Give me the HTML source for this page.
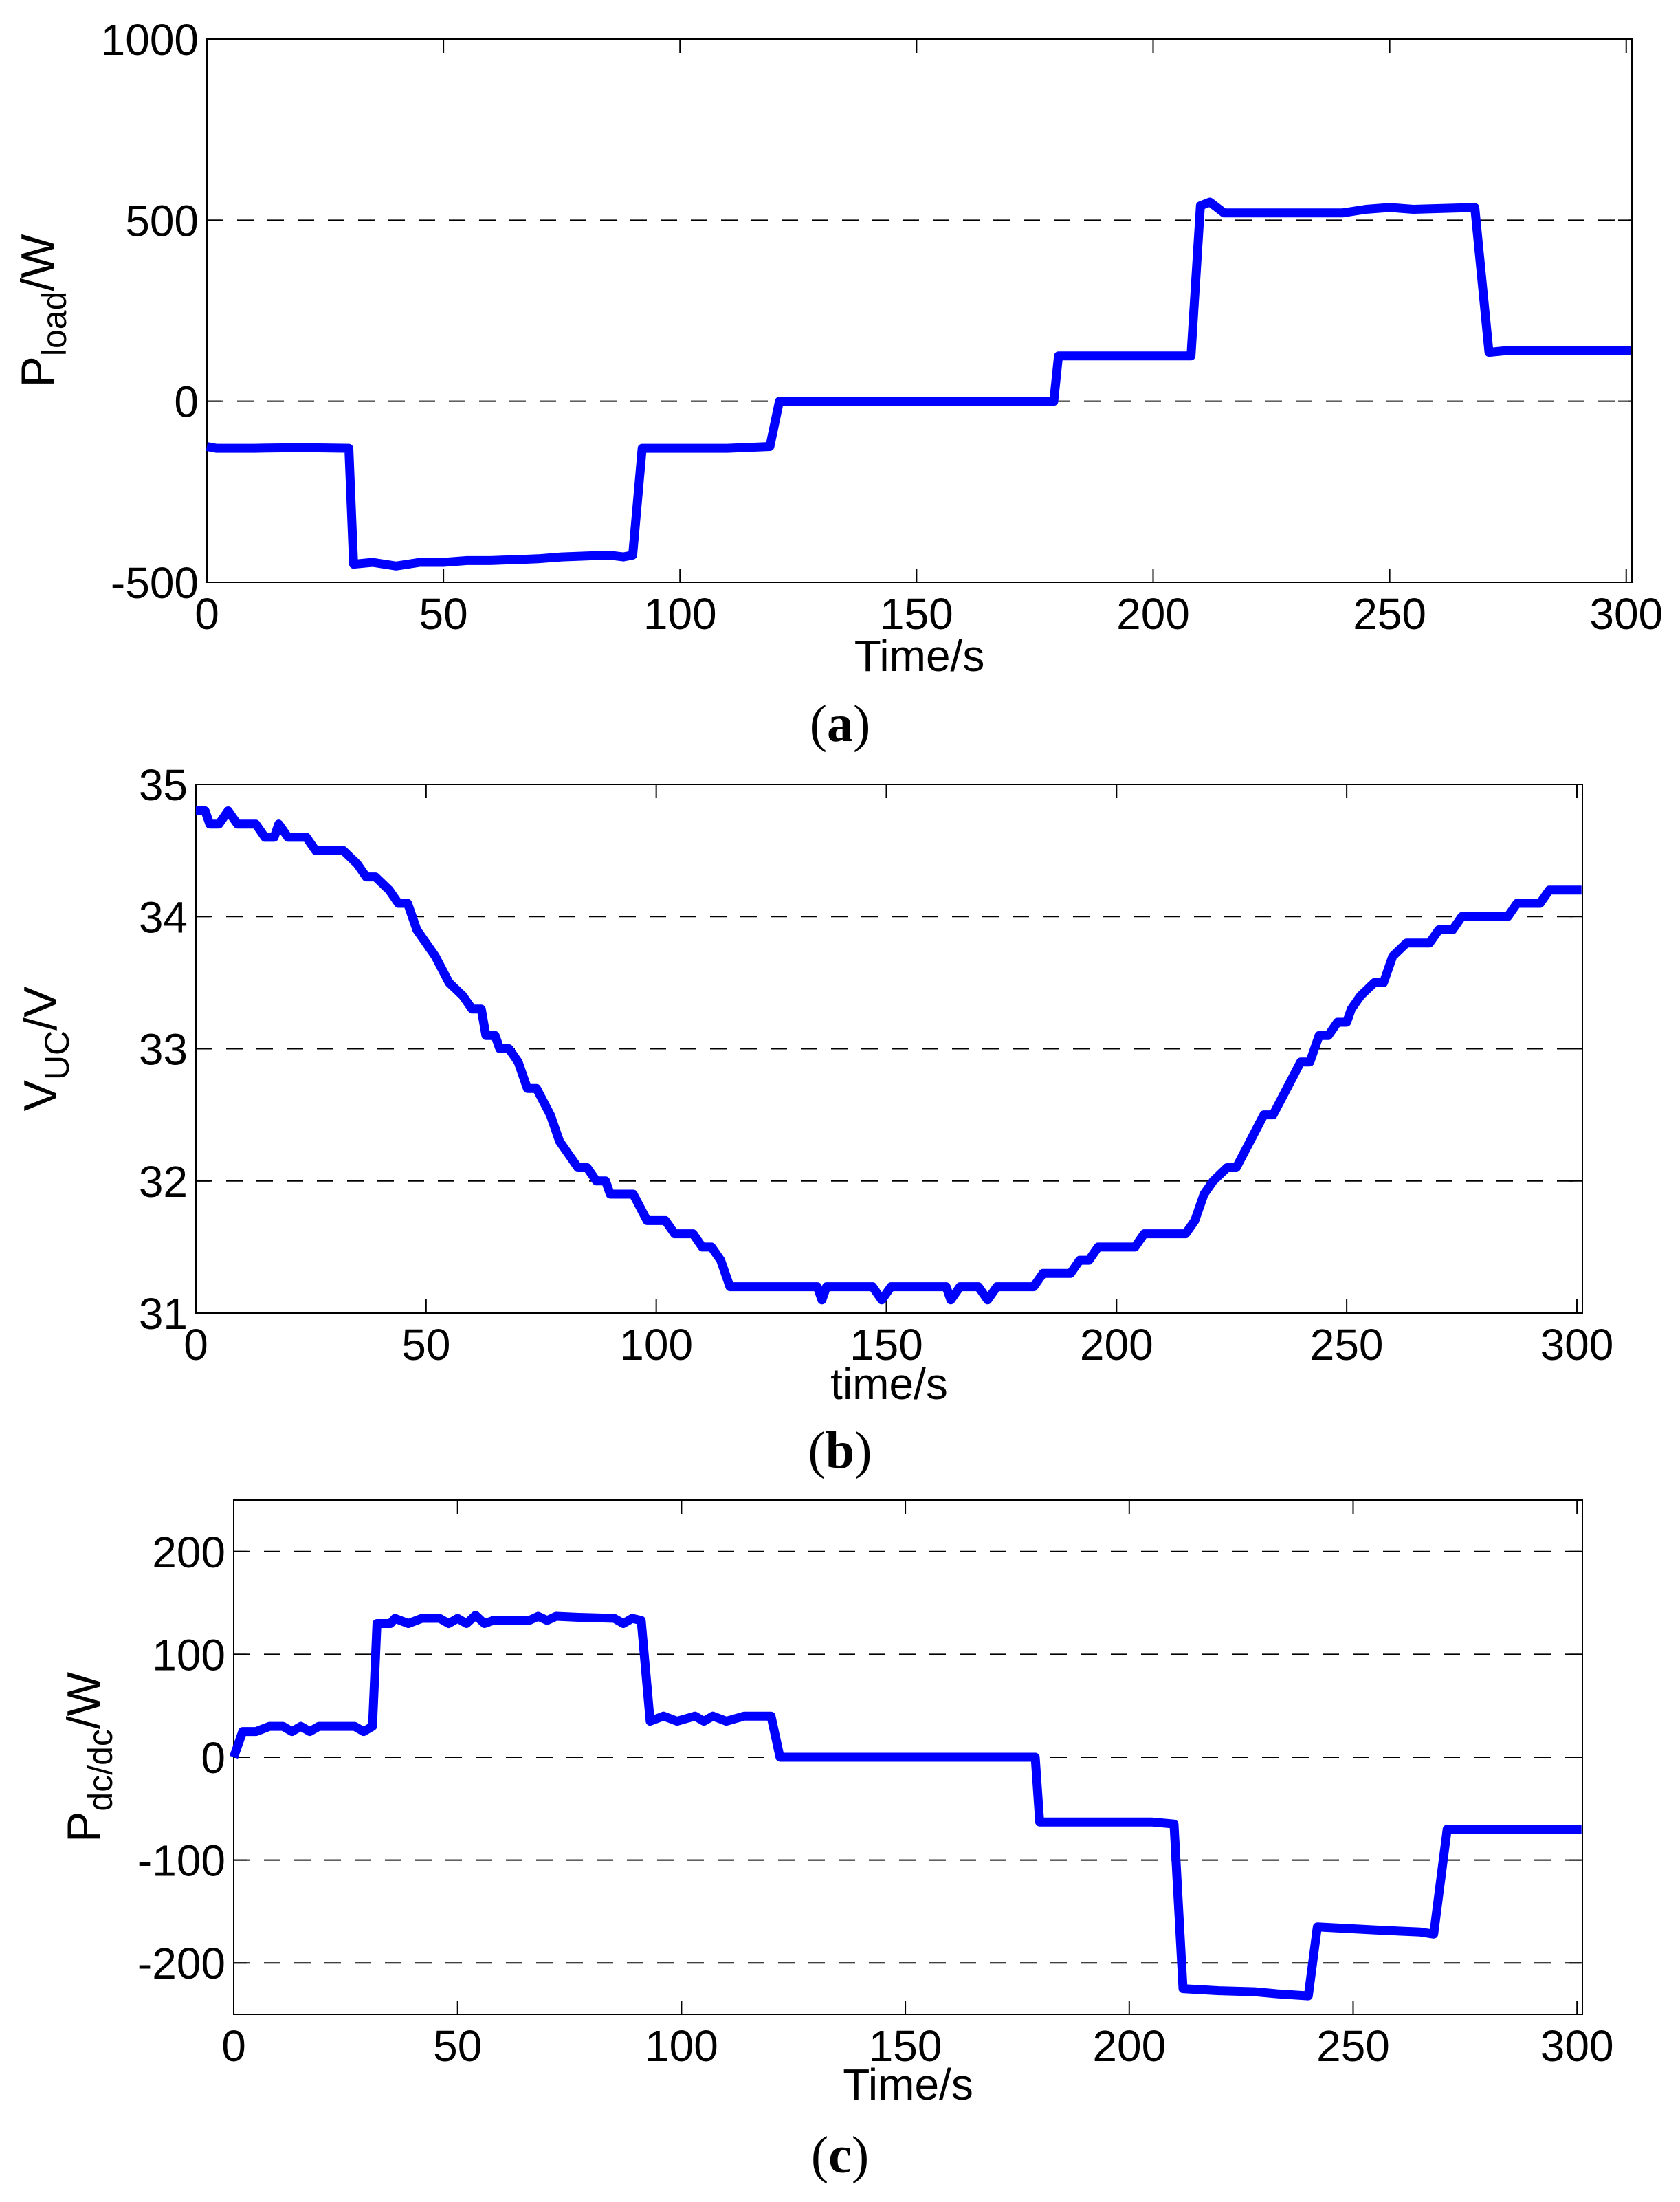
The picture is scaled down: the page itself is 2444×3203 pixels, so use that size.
<!DOCTYPE html>
<html><head><meta charset="utf-8"><style>
html,body{margin:0;padding:0;background:#fff;}
svg{display:block;}
text{font-family:"Liberation Sans",Arial,sans-serif;fill:#000;}
.cap{font-family:"Liberation Serif",serif;}
</style></head><body>
<svg id="fig" width="2444" height="3203" viewBox="0 0 2444 3203" xmlns="http://www.w3.org/2000/svg"></svg>
<script>
const aTime=[0,2,10,20,30,31,35,40,45,50,55,60,70,75,85,88,90,92,100,110,119,121,179,180,208,210,212,215,220,240,245,250,255,268,271,275,301];
const aValues=[-125,-130,-130,-128,-130,-450,-445,-455,-445,-445,-440,-440,-435,-430,-425,-430,-425,-130,-130,-130,-125,0,0,125,125,540,550,520,520,520,530,535,530,535,135,140,140];
const aYTicks=[-500,0,500,1000];
const aGrid=[0,500];
const bTime=[0,2,3,5,7,9,13,15,17,18,20,24,26,32,35,37,39,42,44,46,48,50,52,55,58,60,62,63,65,66,68,70,72,74,77,79,81,83,85,87,89,90,95,98,102,104,108,110,112,114,116,127,135,136,137,147,149,151,163,164,166,170,172,174,182,184,190,192,194,196,204,206,215,217,219,221,224,226,229,232,234,237,240,242,244,246,248,250,251,253,256,258,260,263,268,270,273,275,285,287,292,294,301];
const bValues=[34.8,34.8,34.7,34.7,34.8,34.7,34.7,34.6,34.6,34.7,34.6,34.6,34.5,34.5,34.4,34.3,34.3,34.2,34.1,34.1,33.9,33.8,33.7,33.5,33.4,33.3,33.3,33.1,33.1,33.0,33.0,32.9,32.7,32.7,32.5,32.3,32.2,32.1,32.1,32.0,32.0,31.9,31.9,31.7,31.7,31.6,31.6,31.5,31.5,31.4,31.2,31.2,31.2,31.1,31.2,31.2,31.1,31.2,31.2,31.1,31.2,31.2,31.1,31.2,31.2,31.3,31.3,31.4,31.4,31.5,31.5,31.6,31.6,31.7,31.9,32.0,32.1,32.1,32.3,32.5,32.5,32.7,32.9,32.9,33.1,33.1,33.2,33.2,33.3,33.4,33.5,33.5,33.7,33.8,33.8,33.9,33.9,34.0,34.0,34.1,34.1,34.2,34.2];
const bYTicks=[31,32,33,34,35];
const bGrid=[32,33,34];
const cTime=[0,2,5,8,11,13,15,17,19,27,29,31,32,35,36,39,42,46,48,50,52,54,56,58,66,68,70,72,77,85,87,89,91,93,96,99,103,105,107,110,114,120,122,179,180,205,210,212,220,228,233,240,242,255,265,268,271,301];
const cValues=[0,25,25,30,30,25,30,25,30,30,25,30,130,130,135,130,135,135,130,135,130,138,130,133,133,137,133,137,136,135,130,135,133,35,40,35,40,35,40,35,40,40,0,0,-63,-63,-65,-225,-227,-228,-230,-232,-165,-168,-170,-172,-70,-70];
const cYTicks=[-200,-100,0,100,200];
const cGrid=[-200,-100,0,100,200];
const xTicks=[0,50,100,150,200,250,300];

const NS="http://www.w3.org/2000/svg";
const svg=document.getElementById('fig');
function mk(tag,attrs,parent){const e=document.createElementNS(NS,tag);for(const k in attrs)e.setAttribute(k,attrs[k]);(parent||svg).appendChild(e);return e;}

function chart(id,L,R,T,B,ymin,ymax,times,vals,yticks,grid,ylabelMain,ylabelSub,ylabelUnit,ylabelX,xlabel,xlabelY,cap,capY){
  const g=mk('g',{});
  
  
  const xs=t=>L+(t-0)/(301.2-0)*(R-L);
  const ys=v=>B-(v-ymin)/(ymax-ymin)*(B-T);
  grid.forEach(v=>{const l=mk('line',{x1:L,x2:R,y1:ys(v),y2:ys(v),stroke:'#000','stroke-width':2,'stroke-dasharray':'24,20'},g);
    
    });
  xTicks.forEach(t=>{
    mk('line',{x1:xs(t),x2:xs(t),y1:B,y2:B-20,stroke:'#000','stroke-width':2},g);
    mk('line',{x1:xs(t),x2:xs(t),y1:T,y2:T+20,stroke:'#000','stroke-width':2},g);
    const tx=mk('text',{x:xs(t),y:B+68,'font-size':64,'text-anchor':'middle'},g);
    tx.textContent=t;
    
    
  });
  yticks.forEach(v=>{
    mk('line',{x1:L,x2:L+20,y1:ys(v),y2:ys(v),stroke:'#000','stroke-width':2},g);
    mk('line',{x1:R,x2:R-20,y1:ys(v),y2:ys(v),stroke:'#000','stroke-width':2},g);
    const tx=mk('text',{x:L-12,y:ys(v)+23,'font-size':64,'text-anchor':'end'},g);
    tx.textContent=v;
    
    
  });
  const fr=mk('rect',{x:L,y:T,width:R-L,height:B-T,fill:'none',stroke:'#000','stroke-width':2},g);
  
  
  const d=times.map((t,i)=>(i?'L':'M')+xs(t).toFixed(1)+','+ys(vals[i]).toFixed(1)).join(' ');
  const p=mk('path',{d:d,fill:'none',stroke:'#0000ff','stroke-width':13,'stroke-linejoin':'round'},g);
  
  
  const yl=mk('text',{transform:`translate(${ylabelX},${(T+B)/2}) rotate(-90)`,'font-size':68,'text-anchor':'middle'},g);
  
  
  const s1=mk('tspan',{},yl);s1.textContent=ylabelMain;
  const s2=mk('tspan',{'font-size':50,dy:18},yl);s2.textContent=ylabelSub;
  const s3=mk('tspan',{dy:-18},yl);s3.textContent=ylabelUnit;
  const xl=mk('text',{x:(L+R)/2,y:xlabelY,'font-size':64,'text-anchor':'middle'},g);
  xl.textContent=xlabel;
  
  
  const c=mk('text',{x:1222,y:capY,'font-size':76,'text-anchor':'middle','class':'cap'},g);
  
  
  const c1=mk('tspan',{},c);c1.textContent='(';
  const c2=mk('tspan',{'font-weight':'bold'},c);c2.textContent=cap;
  const c3=mk('tspan',{},c);c3.textContent=')';
}
chart('a',301,2374,57,847,-500,1000,aTime,aValues,aYTicks,aGrid,'P','load','/W',78,'Time/s',976,'a',1078);
chart('b',285,2302,1141,1910,31,35,bTime,bValues,bYTicks,bGrid,'V','UC','/V',82,'time/s',2035,'b',2135);
chart('c',340,2302,2182,2930,-250,250,cTime,cValues,cYTicks,cGrid,'P','dc/dc','/W',145,'Time/s',3054,'c',3160);
</script>
</body></html>
